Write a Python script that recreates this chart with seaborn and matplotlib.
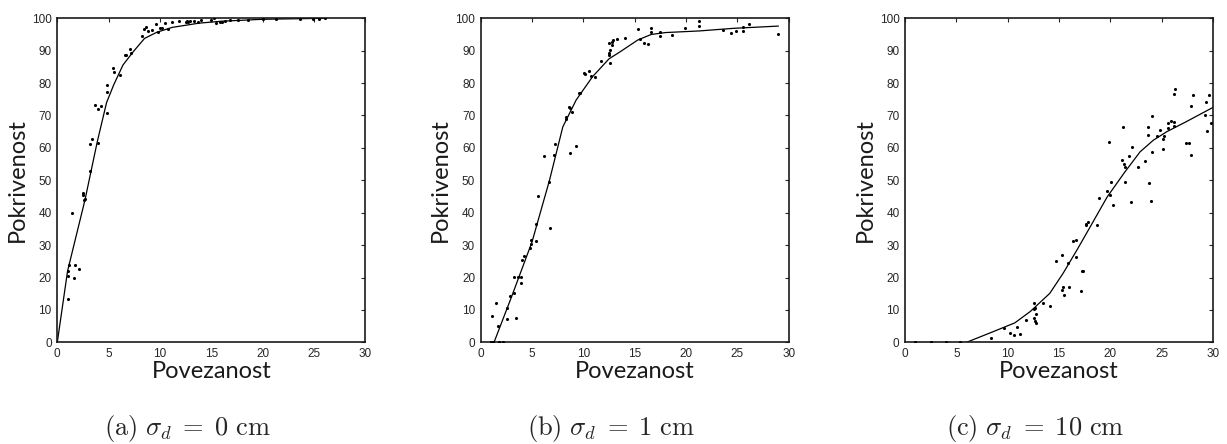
# Coverage vs connectivity for three sigma_d values (a, b, c)

import numpy as np
import pandas as pd
import matplotlib
matplotlib.use('Agg')
import matplotlib.pyplot as plt
import seaborn as sb

# Panel (a): sigma_d = 0 cm
a_pts_x = [1.45, 1.0, 1.07, 1.1, 1.0, 1.6, 1.75, 2.1, 2.46, 2.57, 2.73, 2.53, 3.17, 3.17, 3.4,
           3.66, 3.95, 4.21, 3.92, 4.8, 4.83, 4.83, 5.38, 5.53, 6.12, 6.6, 6.73, 7.09, 7.15,
           8.29, 8.48, 8.68, 8.84, 9.26, 9.65, 9.84, 10.0, 10.2, 10.5, 10.8, 11.2, 11.9, 12.5,
           12.6, 12.7, 12.9, 13.3, 13.7, 14.0, 15.0, 15.3, 15.5, 15.8, 16.0, 16.3, 16.8, 17.6,
           18.6, 20.0, 21.3, 23.6, 24.95, 25.5, 26.1]
a_pts_y = [40.0, 22.1, 20.5, 24.0, 13.3, 20.0, 24.0, 22.5, 45.5, 44.0, 44.3, 46.2, 52.9, 61.2, 62.8,
           73.1, 71.9, 72.8, 61.4, 70.7, 77.2, 79.5, 84.6, 83.4, 82.4, 88.6, 88.6, 90.5, 89.2,
           94.6, 96.8, 97.2, 96.1, 96.4, 98.2, 95.9, 96.9, 97.1, 98.4, 96.7, 98.8, 99.1, 99.0,
           99.3, 98.9, 99.1, 99.2, 99.0, 99.4, 99.5, 100.0, 98.7, 98.9, 99.0, 99.2, 99.5, 99.6,
           99.6, 99.7, 99.8, 99.9, 99.7, 99.8, 100.0]
a_line_x = [0, 1.0, 2.7, 3.9, 4.8, 5.5, 6.4, 7.4, 8.5, 9.7, 11.2, 13.8, 16.0, 20.0, 26.0]
a_line_y = [0, 22.0, 44.0, 62.0, 74.0, 79.5, 85.6, 89.7, 93.8, 95.7, 97.2, 98.5, 99.1, 99.7, 100.0]

# Panel (b): sigma_d = 1 cm
b_pts_x = [1.12, 1.05, 1.15, 1.51, 1.65, 1.8, 2.2, 2.55, 2.55, 2.81, 3.23, 3.25, 3.42, 3.61, 3.94,
           3.97, 3.99, 4.25, 4.8, 4.87, 4.87, 5.36, 5.39, 5.55, 6.72, 6.62, 6.2, 7.17, 7.2, 9.3,
           8.65, 8.32, 8.32, 8.6, 8.7, 8.9, 9.6, 9.65, 10.1, 10.15, 10.55, 10.7, 11.1, 11.75,
           12.5, 12.5, 12.55, 12.55, 12.5, 12.8, 12.8, 12.85, 13.3, 14.1, 15.3, 15.5, 15.95,
           16.3, 16.6, 16.6, 17.5, 17.5, 18.6, 19.9, 21.3, 21.3, 23.6, 24.4, 24.9, 25.55, 25.55,
           26.1, 29.0]
b_pts_y = [8.1, 0.0, 0.0, 12.0, 5.0, 0.0, 0.0, 10.6, 7.1, 14.2, 20.2, 15.1, 7.4, 20.2, 20.1,
           18.3, 25.4, 26.6, 29.0, 30.3, 31.5, 36.4, 31.3, 45.2, 35.3, 49.4, 57.5, 57.8, 61.1, 60.7,
           58.5, 69.4, 69.0, 72.7, 72.2, 71.0, 77.0, 76.8, 83.2, 82.8, 83.6, 82.2, 82.0, 86.8,
           89.2, 88.7, 90.2, 86.1, 92.3, 91.7, 92.8, 93.3, 93.7, 93.8, 96.6, 93.6, 92.5,
           92.0, 97.0, 95.8, 95.7, 94.5, 94.7, 96.9, 99.1, 97.6, 96.4, 95.6, 96.0, 97.2, 96.1,
           98.2, 95.2]
b_line_x = [1.3, 3.0, 5.0, 6.7, 8.0, 9.3, 10.9, 12.5, 13.5, 15.3, 16.6, 18.0, 21.3, 24.6, 29.0]
b_line_y = [0, 14.0, 31.0, 50.0, 66.5, 74.8, 82.0, 87.5, 89.5, 93.3, 95.0, 95.6, 96.1, 96.9, 97.6]

# Panel (c): sigma_d = 10 cm
c_pts_x = [0.98, 2.5, 3.97, 5.37, 8.36, 9.66, 10.2, 10.6, 10.9, 11.2, 11.8, 12.6, 12.6, 12.65,
           12.75, 12.6, 12.7, 12.8, 13.4, 14.1, 14.75, 15.3, 15.9, 15.3, 15.4, 15.5, 16.0,
           16.35, 16.7, 16.7, 17.2, 17.3, 17.1, 17.6, 17.65, 17.8, 18.7, 18.85, 19.7, 20.0,
           20.1, 20.3, 21.4, 22.0, 23.8, 24.0, 19.9, 21.1, 21.3, 21.4, 21.2, 21.85, 22.1, 22.7,
           23.4, 23.7, 23.7, 24.1, 24.1, 24.5, 24.8, 25.1, 25.1, 25.2, 25.6, 25.65, 25.9, 26.2,
           26.2, 26.2, 26.25, 27.4, 27.7, 27.9, 27.9, 28.1, 29.2, 29.3, 29.4, 29.6, 29.85]
c_pts_y = [0.0, 0.0, 0.0, 0.0, 1.2, 4.5, 3.0, 2.2, 4.7, 2.5, 6.9, 12.2, 10.2, 10.7,
           8.7, 7.4, 6.7, 6.0, 12.0, 11.1, 25.0, 27.0, 24.6, 16.1, 17.2, 14.7, 17.2,
           31.4, 31.5, 26.2, 22.1, 22.1, 15.8, 36.5, 36.1, 37.0, 36.2, 44.4, 46.8, 45.6,
           49.6, 42.4, 49.5, 43.3, 49.3, 43.6, 61.9, 56.2, 55.0, 54.0, 66.5, 57.5, 60.3, 54.0,
           55.9, 66.5, 64.0, 58.7, 69.8, 63.6, 65.5, 62.7, 59.6, 63.6, 66.2, 67.8, 68.4, 66.8,
           67.9, 76.5, 78.1, 61.6, 61.6, 57.8, 73.0, 76.3, 70.3, 74.1, 65.1, 76.3, 67.8]
c_line_x = [6.0, 8.6, 10.7, 12.2, 14.1, 15.4, 16.75, 18.05, 19.7, 21.4, 22.9, 24.2, 25.5, 27.4, 30.0]
c_line_y = [0, 3.3, 6.0, 9.5, 15.1, 21.3, 28.5, 35.7, 44.9, 52.5, 58.8, 62.4, 65.0, 68.1, 72.5]

captions = [r'$\mathrm{(a)}\ \sigma_d\;=\;0\ \mathrm{cm}$',
            r'$\mathrm{(b)}\ \sigma_d\;=\;1\ \mathrm{cm}$',
            r'$\mathrm{(c)}\ \sigma_d\;=\;10\ \mathrm{cm}$']

sb.set_style("white")
plt.rcParams['mathtext.fontset'] = 'cm'
plt.rcParams['font.family'] = ['Liberation Sans', 'DejaVu Sans']

panels = [(a_pts_x, a_pts_y, a_line_x, a_line_y),
          (b_pts_x, b_pts_y, b_line_x, b_line_y),
          (c_pts_x, c_pts_y, c_line_x, c_line_y)]
lefts = [57.3, 480.7, 905.0]
W, H = 1227.0, 444.0

fig = plt.figure(figsize=(12.27, 4.44), dpi=100)
for i, (px, py, lx, ly) in enumerate(panels):
    ax = fig.add_axes([lefts[i] / W, (H - 342.3) / H, 308.0 / W, 324.0 / H])
    pts = pd.DataFrame({"x": px, "y": py})
    line = pd.DataFrame({"x": lx, "y": ly})
    sb.lineplot(data=line, x="x", y="y", sort=False, color="black", linewidth=0.9, ax=ax)
    sb.scatterplot(data=pts, x="x", y="y", color="black", s=5, linewidth=0, ax=ax, zorder=3)
    ax.set_xlim(0, 30)
    ax.set_ylim(0, 100)
    ax.set_xticks(np.arange(0, 31, 5))
    ax.set_yticks(np.arange(0, 101, 10))
    ax.tick_params(direction="in", length=3, width=0.8, top=True, right=True,
                   labelsize=8.5, labelcolor="#262626", pad=4)
    for s in ax.spines.values():
        s.set_color("#1a1a1a")
        s.set_linewidth(1.2)
    ax.set_xlabel("Povezanost", fontsize=17, family="Lato", color="#1a1a1a", labelpad=1)
    ax.set_ylabel("Pokrivenost", fontsize=17, family="Lato", color="#1a1a1a", labelpad=3)
    cx = lefts[i] + 154 - 24
    fig.text(cx / W, (H - 428) / H, captions[i], ha="center", va="center", fontsize=19)

plt.savefig("out.png", dpi=100)
